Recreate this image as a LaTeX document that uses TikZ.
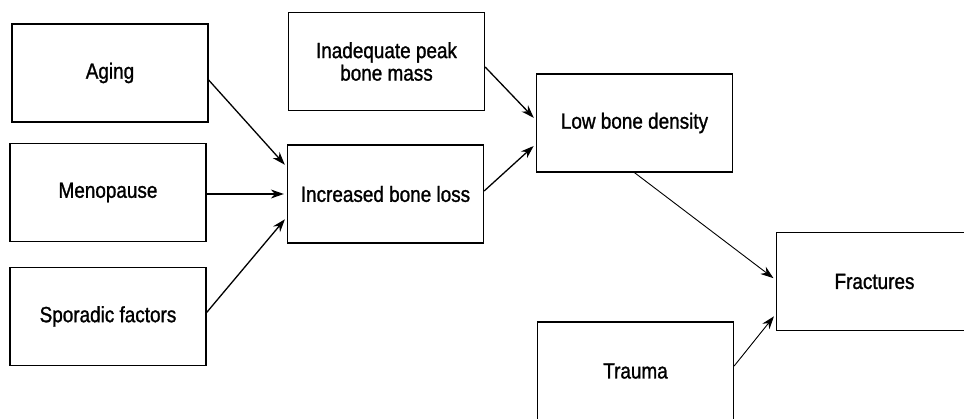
\documentclass[tikz,border=0pt]{standalone}
\usepackage{fontspec}
\setmainfont{Liberation Sans}[FakeStretch=0.86, FakeBold=1.2]
\usetikzlibrary{arrows.meta}
\tikzset{
  box/.style={draw, line width=1.3pt, minimum width=196pt, minimum height=98pt,
    inner sep=0pt, align=center, font=\fontsize{22}{22.5}\selectfont},
  link/.style={line width=1.3pt, -{Stealth[length=13pt,width=9pt]}, shorten >=3pt},
  thinlink/.style={link, line width=0.9pt}
}
\begin{document}
\begin{tikzpicture}[x=1pt, y=-1pt]
\useasboundingbox (0,0) rectangle (964,419);
\node[box] (aging) at (110,73) {Aging};
\node[box] (meno) at (108,192.5) {Menopause};
\node[box] (spor) at (108,316.5) {Sporadic factors};
\node[box] (peak) at (386.5,61.5) {Inadequate peak\\bone mass};
\node[box] (loss) at (385.5,194) {Increased bone loss};
\node[box] (density) at (634.5,123) {Low bone density};
\node[box] (fract) at (874.5,281.5) {Fractures};
\node[box] (trauma) at (635.5,371) {Trauma};
\draw[link] ([yshift=-7pt]aging.east) -- ([yshift=27pt]loss.west);
\draw[link] ([yshift=-1.5pt]meno.east) -- ([yshift=0pt]loss.west);
\draw[link] ([yshift=4pt]spor.east) -- ([yshift=-23pt]loss.west);
\draw[link] ([yshift=-5.5pt]peak.east) -- ([yshift=3pt]density.west);
\draw[link] ([yshift=3pt]loss.east) -- ([yshift=-21pt]density.west);
\draw[thinlink] (density.south) -- ([yshift=1.5pt]fract.west);
\draw[thinlink] ([yshift=5pt]trauma.east) -- ([yshift=-32.5pt]fract.west);
\end{tikzpicture}
\end{document}
